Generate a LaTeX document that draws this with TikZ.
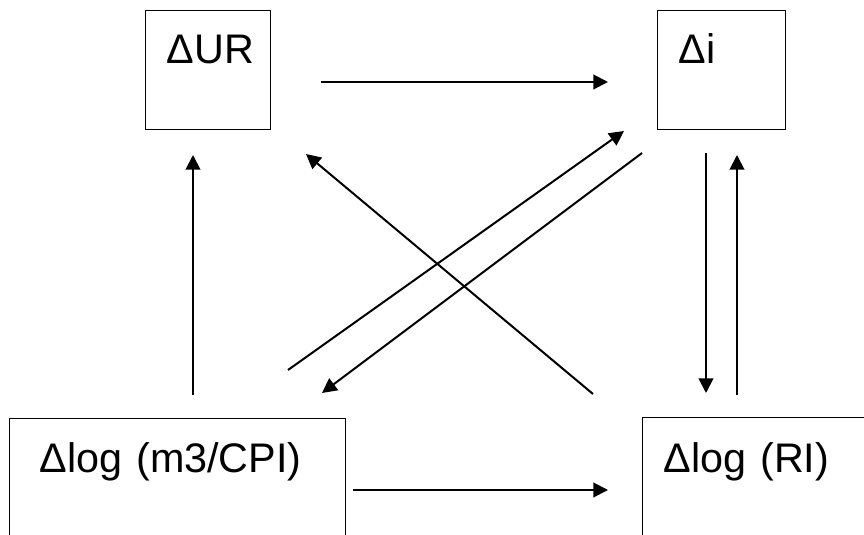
\documentclass[tikz,border=0pt]{standalone}
\usepackage{fontspec}
\setmainfont{Liberation Sans}
\usetikzlibrary{arrows.meta,positioning}

\begin{document}
\begin{tikzpicture}[x=0.75pt, y=-0.75pt,
    box/.style={draw, line width=1.1pt, anchor=north west, inner ysep=0pt,
      align=left, font=\fontsize{31}{36}\selectfont},
    arr/.style={-{Triangle[length=11pt,width=11pt]}, line width=1.5pt}]
    \useasboundingbox (0,0) rectangle (864,535);
    % the four variables
    \node[box, inner xsep=15.75pt, text width=62.25pt, text height=39.75pt, text depth=49.5pt] (ur) at (145,10) {ΔUR};
    \node[box, inner xsep=15.75pt, text width=64.5pt, text height=39.75pt, text depth=49.5pt] (di) at (657,10) {Δi};
    \node[box, inner xsep=22.5pt, text width=207pt, text height=40.5pt, text depth=66pt] (m3) at (9,418) {Δlog (m3/CPI)};
    \node[box, inner xsep=15.75pt, text width=162pt, text height=41.25pt, text depth=66pt] (ri) at (642,417) {Δlog (RI)};
    % arrow ends
    \coordinate (ur-r) at (321,82);   \coordinate (di-l) at (608,82);
    \coordinate (m3-r) at (353,490);  \coordinate (ri-l) at (608,490);
    \coordinate (m3-t) at (193,395);  \coordinate (ur-b) at (193,155);
    \coordinate (di-b1) at (706,153); \coordinate (ri-t1) at (706,393);
    \coordinate (ri-t2) at (737,395); \coordinate (di-b2) at (737,155);
    \coordinate (ri-tl) at (593,394); \coordinate (ur-br) at (306,154);
    \coordinate (m3-tr1) at (288,370); \coordinate (di-bl1) at (624,131);
    \coordinate (di-bl2) at (642,153); \coordinate (m3-tr2) at (322,393);
    % links
    \draw[arr] (ur-r) -- (di-l);
    \draw[arr] (m3-r) -- (ri-l);
    \draw[arr] (m3-t) -- (ur-b);
    \draw[arr] (di-b1) -- (ri-t1);
    \draw[arr] (ri-t2) -- (di-b2);
    \draw[arr] (ri-tl) -- (ur-br);
    \draw[arr] (m3-tr1) -- (di-bl1);
    \draw[arr] (di-bl2) -- (m3-tr2);
\end{tikzpicture}
\end{document}
